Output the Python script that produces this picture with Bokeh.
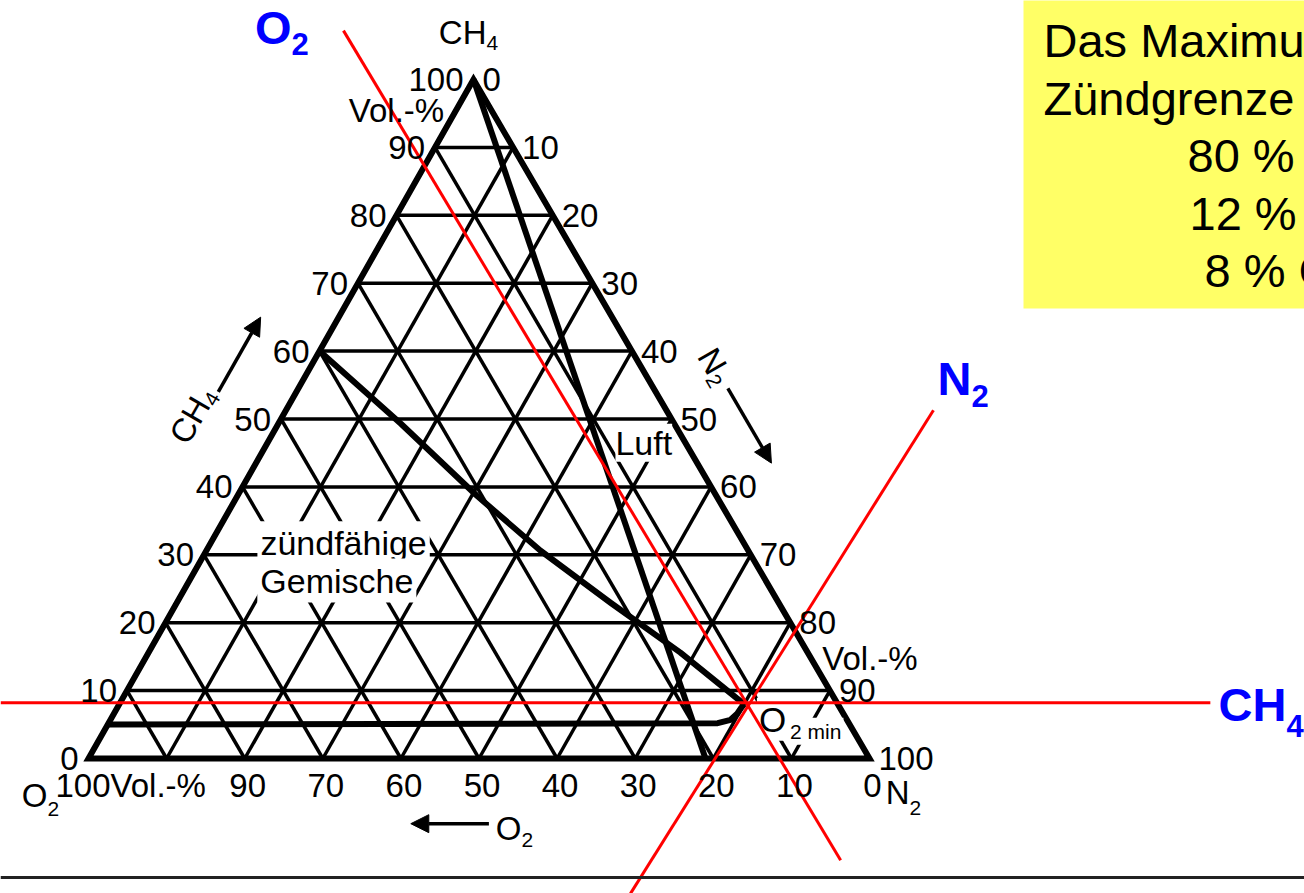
import math

from bokeh.core.properties import value
from bokeh.embed import file_html
from bokeh.models import Arrow, NormalHead, Range1d, Span
from bokeh.plotting import figure
from bokeh.resources import INLINE

# ---------------------------------------------------------------------------
# Data: compositions in Vol.-%, always written as (CH4, O2, N2)
# ---------------------------------------------------------------------------
grid_steps = [10, 20, 30, 40, 50, 60, 70, 80, 90]
ch4_ticks = [0, 10, 20, 30, 40, 50, 60, 70, 80, 90, 100]
n2_ticks = [0, 10, 20, 30, 40, 50, 60, 70, 80, 90, 100]
o2_tick_values = [80, 70, 60, 50, 40, 30, 20, 10, 0]
o2_tick_labels = ["90", "70", "60", "50", "40", "30", "20", "10", "0"]

methane = (100, 0, 0)
air = (0, 21, 79)                      # Luft
o2_min = (8, 12, 80)                   # O2 min point

# upper explosion limit, from pure O2/CH4 side down to O2 min
upper_limit = [(60, 40, 0), (49.3, 35.0, 15.7), (38.8, 30.7, 30.5),
               (30.6, 26.6, 42.8), (22.9, 21.5, 55.6), (15.6, 16.3, 68.1),
               (8, 12, 80)]
# lower explosion limit, rounding up into O2 min
lower_limit = [(5, 95, 0), (5.2, 16.8, 78.0), (5.7, 14.9, 79.4),
               (6.6, 13.6, 79.8), (7.5, 12.6, 79.9), (8, 12, 80)]

# red guide lines through O2 min (end points lie outside the triangle)
red_ch4 = [(8.2, 107.1, -15.3), (8.2, -47.8, 139.6)]
red_o2 = [(107.2, 13.0, -20.2), (-15.0, 11.3, 103.7)]
red_n2 = [(51.3, -34.2, 82.9), (-19.9, 40.7, 79.2)]

# direction arrows beside the three sides
arrow_ch4 = [(54, 56, -10), (65, 45, -10)]
arrow_n2 = [(54.5, -9.5, 55), (43.5, -9.5, 66)]
arrow_o2 = [(-9.6, 53.6, 56), (-9.6, 63.6, 46)]

info_lines = ["Das Maximum der", "Zündgrenze liegt bei", "80 % N₂", "12 % O₂", "8 % CH₄"]

# ---------------------------------------------------------------------------
# Layout
# ---------------------------------------------------------------------------
W, H = 1304, 893
FONT = "Liberation Sans"
APEX = (473.0, 814.0)    # 100 % CH4
LEFT = (88.0, 135.0)     # 100 % O2
RIGHT = (869.0, 135.0)   # 100 % N2


def tern(c, o, n):
    s = c + o + n
    x = (c * APEX[0] + o * LEFT[0] + n * RIGHT[0]) / s
    y = (c * APEX[1] + o * LEFT[1] + n * RIGHT[1]) / s
    return x, y


def path(points):
    xs, ys = zip(*[tern(*pt) for pt in points])
    return list(xs), list(ys)


p = figure(width=W, height=H, x_range=Range1d(0, W), y_range=Range1d(0, H),
           toolbar_location=None, output_backend="svg", min_border=0,
           x_axis_location=None, y_axis_location=None)
p.grid.visible = False
p.outline_line_color = None
p.background_fill_color = "white"
p.border_fill_color = "white"


def text(x, y, s, size, align="left", color="black", bold=False, angle=0.0,
         bg=None, pad=0):
    kw = {}
    if bg is not None:
        kw = dict(background_fill_color=bg, padding=pad)
    p.text(x=[x], y=[y], text=[s], angle=angle,
           text_font=value(FONT), text_font_size=value(f"{size}px"),
           text_align=align, text_baseline="middle", text_color=color,
           text_font_style="bold" if bold else "normal", **kw)


def formula(x, y, main, sub, size, sub_size, drop, color="black", bold=False,
            angle=0.0, bg=None, pad=0):
    # main part is centred on (x, y) and ends there; the subscript follows, lowered by `drop`
    dx, dy = math.sin(angle) * drop, -math.cos(angle) * drop
    text(x, y, main, size, align="right", color=color, bold=bold, angle=angle, bg=bg, pad=pad)
    text(x + dx, y + dy, sub, sub_size, align="left", color=color, bold=bold, angle=angle, bg=bg, pad=pad)


# info box
p.quad(left=1023, right=W + 5, bottom=585, top=H + 5, fill_color="#FFFF66", line_color=None)
for i, line in enumerate(info_lines):
    lx = [1043, 1043, 1187, 1189, 1204][i]
    text(lx, 853 - 57.5 * i, line, 47)

# triangular grid
gx, gy = [], []
for v in grid_steps:
    for a, b in [((v, 100 - v, 0), (v, 0, 100 - v)),
                 ((0, v, 100 - v), (100 - v, v, 0)),
                 ((0, 100 - v, v), (100 - v, 0, v))]:
        xs, ys = path([a, b])
        gx.append(xs)
        gy.append(ys)
p.multi_line(gx, gy, line_color="black", line_width=3.5)

# outline
tx, ty = path([(100, 0, 0), (0, 100, 0), (0, 0, 100)])
p.patch(tx, ty, fill_color=None, line_color="black", line_width=6, line_join="miter")

# labels sitting on white boxes inside the grid
lx, ly = tern(46.8, 8.8, 44.4)
text(lx, ly - 2, "Luft", 34, bg="white", pad=0)
zx, zy = tern(31.7, 62.3, 6.0)
text(zx, zy, "zündfähige", 34, bg="white", pad=3)
gx0, gy0 = tern(26.2, 65.1, 8.7)
text(gx0, gy0, "Gemische", 34, bg="white", pad=3)
mx, my = tern(*o2_min)
formula(mx + 44, my - 15, "O", "2 min", 35, 21, 12, bg="white", pad=2)

# air line and explosion limits
xs, ys = path([methane, air])
p.line(xs, ys, line_color="black", line_width=6)
xs, ys = path(upper_limit)
p.line(xs, ys, line_color="black", line_width=6, line_join="round")
xs, ys = path(lower_limit)
p.line(xs, ys, line_color="black", line_width=6, line_join="round")

# red guide lines
for seg in (red_ch4, red_o2, red_n2):
    xs, ys = path(seg)
    p.line(xs, ys, line_color="#FF0000", line_width=3)

# tick labels
for v in ch4_ticks:
    x, y = tern(v, 100 - v, 0)
    text(x - 10, y, str(v), 33, align="right")
for v in n2_ticks:
    x, y = tern(100 - v, 0, v)
    text(x + 9, y, str(v), 33, align="left")
for v, s in zip(o2_tick_values, o2_tick_labels):
    x, y = tern(0, v, 100 - v)
    text(x + 3, y - 27, s, 33, align="center")
x, y = tern(0, 100, 0)
text(x - 33, y - 27, "100Vol.-%", 33, align="left")
x, y = tern(95.5, 4.5, 0)
text(x - 12, y, "Vol.-%", 33, align="right")
x, y = tern(14.7, 0, 85.3)
text(x + 11, y, "Vol.-%", 33, align="left")

# component names
formula(486, 861, "CH", "4", 33, 21, 10)
formula(47, 98, "O", "2", 33, 21, 13)
formula(909, 101, "N", "2", 33, 21, 15)
formula(521, 65, "O", "2", 33, 21, 11)
formula(201, 494, "CH", "4", 33, 21, 9, angle=math.pi / 3)
formula(718, 522, "N", "2", 33, 21, 9, angle=-math.pi / 3)

# direction arrows
for seg in (arrow_ch4, arrow_n2, arrow_o2):
    (x0, y0), (x1, y1) = tern(*seg[0]), tern(*seg[1])
    p.add_layout(Arrow(x_start=x0, y_start=y0, x_end=x1, y_end=y1,
                       line_color="black", line_width=3.5,
                       end=NormalHead(size=18, fill_color="black", line_color="black")))

# blue names of the guide lines
formula(291, 866, "O", "2", 47, 31, 16, color="#0000FF", bold=True)
formula(971, 515, "N", "2", 47, 31, 17, color="#0000FF", bold=True)
formula(1286, 189, "CH", "4", 47, 31, 21, color="#0000FF", bold=True)

# rule under the diagram
p.add_layout(Span(location=16, dimension="width", line_color="#222222", line_width=3))

open("out.html", "w").write(file_html(p, INLINE))
